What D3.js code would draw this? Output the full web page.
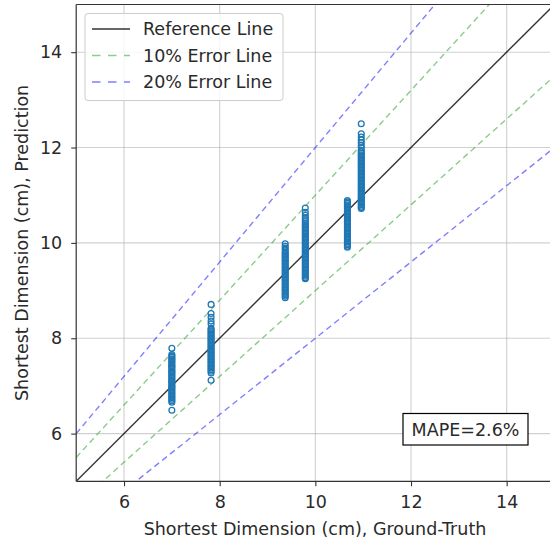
<!DOCTYPE html>
<html>
<head>
<meta charset="utf-8">
<script src="https://cdn.jsdelivr.net/npm/d3@7"></script>
<style>
  html, body { margin: 0; padding: 0; background: #fff; }
  svg { display: block; font-family: "DejaVu Sans", sans-serif; }
</style>
</head>
<body>
<svg id="chart" width="550" height="546"></svg>
<script>
// ---- data ----
const xTicks = [6, 8, 10, 12, 14];
const yTicks = [6, 8, 10, 12, 14];
const groundTruth = [7.0, 7.82, 9.37, 9.79, 10.67, 10.96];
const pred_7_00 = [7.79, 7.66, 7.63, 7.60, 7.57, 7.55, 7.52, 7.49, 7.46, 7.43, 7.41, 7.38, 7.35, 7.32, 7.29, 7.27, 7.24, 7.21, 7.18, 7.15, 7.12, 7.10, 7.07, 7.04, 7.01, 6.98, 6.96, 6.93, 6.90, 6.87, 6.84, 6.81, 6.78, 6.75, 6.72, 6.69, 6.66, 6.49];
const pred_7_82 = [8.71, 8.52, 8.44, 8.36, 8.30, 8.21, 8.18, 8.15, 8.12, 8.09, 8.06, 8.03, 8.00, 7.97, 7.94, 7.91, 7.88, 7.85, 7.82, 7.79, 7.76, 7.73, 7.70, 7.67, 7.64, 7.61, 7.58, 7.55, 7.52, 7.49, 7.46, 7.43, 7.40, 7.37, 7.34, 7.31, 7.27, 7.12];
const pred_9_37 = [9.98, 9.93, 9.89, 9.85, 9.81, 9.78, 9.75, 9.72, 9.69, 9.66, 9.63, 9.60, 9.57, 9.54, 9.51, 9.48, 9.45, 9.42, 9.39, 9.36, 9.33, 9.30, 9.27, 9.24, 9.21, 9.18, 9.15, 9.12, 9.09, 9.06, 9.03, 9.00, 8.97, 8.94, 8.91, 8.88, 8.85];
const pred_9_79 = [10.73, 10.64, 10.58, 10.53, 10.49, 10.45, 10.41, 10.38, 10.35, 10.32, 10.29, 10.26, 10.23, 10.20, 10.17, 10.14, 10.11, 10.08, 10.05, 10.02, 9.99, 9.96, 9.93, 9.90, 9.87, 9.84, 9.81, 9.78, 9.75, 9.72, 9.69, 9.66, 9.63, 9.60, 9.57, 9.54, 9.51, 9.48, 9.45, 9.42, 9.39, 9.36, 9.33, 9.30, 9.27, 9.25];
const pred_10_67 = [10.89, 10.86, 10.83, 10.80, 10.77, 10.74, 10.71, 10.68, 10.65, 10.62, 10.59, 10.56, 10.53, 10.50, 10.47, 10.44, 10.41, 10.38, 10.35, 10.32, 10.29, 10.26, 10.23, 10.20, 10.17, 10.14, 10.11, 10.08, 10.05, 10.02, 9.99, 9.96, 9.93, 9.91];
const pred_10_96 = [12.50, 12.29, 12.22, 12.16, 12.10, 12.05, 12.00, 11.94, 11.91, 11.88, 11.85, 11.82, 11.79, 11.76, 11.73, 11.70, 11.67, 11.64, 11.61, 11.58, 11.55, 11.52, 11.49, 11.46, 11.43, 11.40, 11.37, 11.34, 11.31, 11.28, 11.25, 11.22, 11.19, 11.16, 11.13, 11.10, 11.07, 11.04, 11.01, 10.98, 10.95, 10.92, 10.89, 10.86, 10.83, 10.80, 10.77, 10.74, 10.72];
const predictions = [pred_7_00, pred_7_82, pred_9_37, pred_9_79, pred_10_67, pred_10_96];
const lineFactors = [1.0, 1.1, 0.9, 1.2, 0.8];
const legendLabels = ["Reference Line", "10% Error Line", "20% Error Line"];
const mapeText = "MAPE=2.6%";
const xLabel = "Shortest Dimension (cm), Ground-Truth";
const yLabel = "Shortest Dimension (cm), Prediction";

// ---- layout ----
const svg = d3.select("#chart");
const L = 76.2, R = 554.5, T = 4.5, B = 481.3;
const x = d3.scaleLinear().domain([5, 15]).range([L, R]);
const y = d3.scaleLinear().domain([5, 15]).range([B, T]);
const textColor = "#2a2a2a";
const fs = "17.5px";

svg.append("defs").append("clipPath").attr("id", "clip")
  .append("rect").attr("x", L).attr("y", T).attr("width", R - L).attr("height", B - T);

// grid
const grid = svg.append("g");
grid.selectAll(".gx").data(xTicks).join("line")
  .attr("x1", d => x(d)).attr("x2", d => x(d)).attr("y1", T).attr("y2", B)
  .attr("stroke", "#b0b0b0").attr("stroke-opacity", 0.6).attr("stroke-width", 1.1);
grid.selectAll(".gy").data(yTicks).join("line")
  .attr("y1", d => y(d)).attr("y2", d => y(d)).attr("x1", L).attr("x2", R)
  .attr("stroke", "#b0b0b0").attr("stroke-opacity", 0.6).attr("stroke-width", 1.1);

// lines
const lineStyle = f => f === 1.0 ? { c: "#000", o: 0.8, dash: null }
  : (Math.abs(f - 1) < 0.15 ? { c: "#2ca02c", o: 0.55, dash: "6,4" } : { c: "#0000ff", o: 0.5, dash: "6,4" });
const plotG = svg.append("g").attr("clip-path", "url(#clip)");
lineFactors.forEach(f => {
  const s = lineStyle(f);
  const p = plotG.append("line")
    .attr("x1", x(5)).attr("y1", y(5 * f))
    .attr("x2", x(15)).attr("y2", y(15 * f))
    .attr("stroke", s.c).attr("stroke-opacity", s.o).attr("stroke-width", 1.4);
  if (s.dash) p.attr("stroke-dasharray", s.dash);
});

// points
const pts = [];
groundTruth.forEach((g, i) => predictions[i].forEach(v => pts.push([g, v])));
plotG.append("g").selectAll("circle").data(pts).join("circle")
  .attr("cx", d => x(d[0])).attr("cy", d => y(d[1])).attr("r", 2.9)
  .attr("fill", "none").attr("stroke", "#1f77b4").attr("stroke-width", 1.3);

// axes
const xAxis = d3.axisBottom(x).tickValues(xTicks).tickSize(5).tickPadding(9).tickFormat(d3.format("d"));
const yAxis = d3.axisLeft(y).tickValues(yTicks).tickSize(5).tickPadding(9).tickFormat(d3.format("d"));
const gx = svg.append("g").attr("transform", `translate(0,${B})`).call(xAxis);
const gy = svg.append("g").attr("transform", `translate(${L},0)`).call(yAxis);
[gx, gy].forEach(g => {
  g.select(".domain").remove();
  g.selectAll(".tick line").attr("stroke", "#333").attr("stroke-width", 1.1);
  g.selectAll(".tick text").attr("fill", textColor).style("font-size", fs).style("font-family", "DejaVu Sans");
});

// spines
svg.append("line").attr("x1", L).attr("x2", L).attr("y1", T).attr("y2", B).attr("stroke", "#333").attr("stroke-width", 1.2);
svg.append("line").attr("x1", L).attr("x2", R).attr("y1", B).attr("y2", B).attr("stroke", "#333").attr("stroke-width", 1.2);
svg.append("line").attr("x1", L).attr("x2", R).attr("y1", T).attr("y2", T).attr("stroke", "#333").attr("stroke-width", 1.2);

// axis labels
svg.append("text").attr("x", 315).attr("y", 535).attr("text-anchor", "middle")
  .attr("fill", textColor).style("font-size", fs).text(xLabel);
svg.append("text").attr("transform", `translate(28,${(T + B) / 2}) rotate(-90)`).attr("text-anchor", "middle")
  .attr("fill", textColor).style("font-size", fs).text(yLabel);

// legend
const lg = svg.append("g");
lg.append("rect").attr("x", 85).attr("y", 13.5).attr("width", 198).attr("height", 87).attr("rx", 3)
  .attr("fill", "#fff").attr("fill-opacity", 0.8).attr("stroke", "#ccc").attr("stroke-width", 1);
const legStyles = [lineStyle(1.0), lineStyle(1.1), lineStyle(1.2)];
legendLabels.forEach((t, i) => {
  const yy = 29 + i * 26.5;
  const s = legStyles[i];
  const l = lg.append("line").attr("x1", 92).attr("x2", 130).attr("y1", yy).attr("y2", yy)
    .attr("stroke", s.c).attr("stroke-opacity", s.o).attr("stroke-width", 1.4);
  if (s.dash) l.attr("stroke-dasharray", "8.5,7.5");
  lg.append("text").attr("x", 143).attr("y", yy + 6).attr("fill", textColor)
    .style("font-size", fs).text(t);
});

// MAPE box
svg.append("rect").attr("x", 403).attr("y", 413.5).attr("width", 125).attr("height", 31.5)
  .attr("fill", "#fff").attr("stroke", "#000").attr("stroke-width", 1.2);
svg.append("text").attr("x", 465.5).attr("y", 435.5).attr("text-anchor", "middle")
  .attr("fill", textColor).style("font-size", fs).text(mapeText);
</script>
</body>
</html>
